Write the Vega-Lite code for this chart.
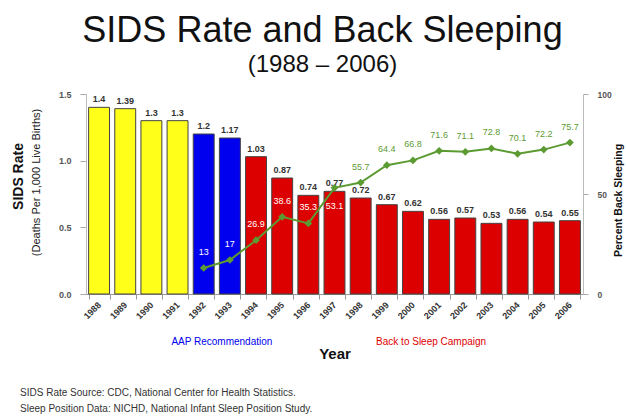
{
  "$schema": "https://vega.github.io/schema/vega-lite/v6.json",
  "width": 497,
  "height": 200,
  "autosize": {"type": "none"},
  "padding": {"left": 86, "top": 94, "right": 43, "bottom": 124},
  "background": "white",
  "title": {
    "text": "SIDS Rate and Back Sleeping",
    "subtitle": "(1988 – 2006)",
    "font": "Liberation Sans",
    "fontSize": 36,
    "fontWeight": "normal",
    "color": "#111111",
    "subtitleFont": "Liberation Sans",
    "subtitleFontSize": 24,
    "subtitleColor": "#111111",
    "subtitlePadding": 3,
    "anchor": "middle",
    "dx": -12,
    "offset": 12
  },
  "config": {
    "view": {"stroke": null},
    "axis": {"grid": false, "labelFont": "Liberation Sans", "titleFont": "Liberation Sans"},
    "text": {"font": "Liberation Sans"}
  },
  "data": {
    "values": [
      {"year": "1988", "rate": 1.4, "back": null, "period": "pre"},
      {"year": "1989", "rate": 1.39, "back": null, "period": "pre"},
      {"year": "1990", "rate": 1.3, "back": null, "period": "pre"},
      {"year": "1991", "rate": 1.3, "back": null, "period": "pre"},
      {"year": "1992", "rate": 1.2, "back": 13, "period": "AAP"},
      {"year": "1993", "rate": 1.17, "back": 17, "period": "AAP"},
      {"year": "1994", "rate": 1.03, "back": 26.9, "period": "BTS"},
      {"year": "1995", "rate": 0.87, "back": 38.6, "period": "BTS"},
      {"year": "1996", "rate": 0.74, "back": 35.3, "period": "BTS"},
      {"year": "1997", "rate": 0.77, "back": 53.1, "period": "BTS"},
      {"year": "1998", "rate": 0.72, "back": 55.7, "period": "BTS"},
      {"year": "1999", "rate": 0.67, "back": 64.4, "period": "BTS"},
      {"year": "2000", "rate": 0.62, "back": 66.8, "period": "BTS"},
      {"year": "2001", "rate": 0.56, "back": 71.6, "period": "BTS"},
      {"year": "2002", "rate": 0.57, "back": 71.1, "period": "BTS"},
      {"year": "2003", "rate": 0.53, "back": 72.8, "period": "BTS"},
      {"year": "2004", "rate": 0.56, "back": 70.1, "period": "BTS"},
      {"year": "2005", "rate": 0.54, "back": 72.2, "period": "BTS"},
      {"year": "2006", "rate": 0.55, "back": 75.7, "period": "BTS"}
    ]
  },
  "encoding": {
    "x": {
      "field": "year",
      "type": "ordinal",
      "scale": {"paddingInner": 0.2, "paddingOuter": 0.1},
      "axis": {
        "title": "Year",
        "labelAngle": -45,
        "labelAlign": "right",
        "labelBaseline": "middle",
        "labelFontSize": 9,
        "labelFontWeight": "bold",
        "labelColor": "#333333",
        "labelPadding": 4,
        "tickBand": "extent",
        "tickSize": 5,
        "tickColor": "#999999",
        "domainColor": "#999999",
        "titleFontSize": 15,
        "titleFontWeight": "bold",
        "titleColor": "#111111",
        "titlePadding": 26
      }
    }
  },
  "layer": [
    {
      "layer": [
        {
          "mark": {"type": "bar", "stroke": "#444444", "strokeWidth": 1},
          "encoding": {
            "y": {
              "field": "rate",
              "type": "quantitative",
              "scale": {"domain": [0, 1.5], "nice": false},
              "axis": {
                "orient": "left",
                "values": [0, 0.5, 1, 1.5],
                "format": ".1f",
                "labelFontSize": 9,
                "labelFontWeight": "bold",
                "labelColor": "#555555",
                "labelPadding": 9,
                "tickSize": 6,
                "tickColor": "#aaaaaa",
                "domainColor": "#bbbbbb",
                "title": "(Deaths Per 1,000 Live Births)",
                "titleFontSize": 11,
                "titleFontWeight": "normal",
                "titleColor": "#222222",
                "titlePadding": 17,
                "titleY": 88
              }
            },
            "color": {
              "field": "period",
              "type": "nominal",
              "scale": {"domain": ["pre", "AAP", "BTS"], "range": ["#ffff1a", "#0000ee", "#dd0000"]},
              "legend": null
            }
          }
        },
        {
          "mark": {"type": "text", "baseline": "bottom", "dy": -3, "fontSize": 9, "fontWeight": "bold", "color": "#333333"},
          "encoding": {
            "y": {"field": "rate", "type": "quantitative"},
            "text": {"field": "rate", "type": "quantitative", "format": "~g"}
          }
        },
        {
          "data": {"values": [
            {"year": "1993", "note": "AAP Recommendation", "group": "AAP"},
            {"year": "2001", "note": "Back to Sleep Campaign", "group": "BTS"}
          ]},
          "mark": {"type": "text", "baseline": "middle", "align": "center", "dy": 48, "dx": -8, "fontSize": 10},
          "encoding": {
            "y": {"datum": 0},
            "text": {"field": "note"},
            "color": {
              "field": "group",
              "type": "nominal",
              "scale": {"domain": ["pre", "AAP", "BTS"], "range": ["#ffff1a", "#3333ff", "#e02020"]},
              "legend": null
            }
          }
        },
        {
          "data": {"values": [
            {"note": "SIDS Rate Source:  CDC, National Center for Health Statistics.\nSleep Position Data:  NICHD, National Infant Sleep Position Study."}
          ]},
          "mark": {"type": "text", "baseline": "top", "align": "left", "dx": -79, "dy": 94, "fontSize": 10, "lineBreak": "\n", "lineHeight": 16, "color": "#333333"},
          "encoding": {
            "x": {"datum": "1988"},
            "y": {"datum": 0},
            "text": {"field": "note"}
          }
        }
      ]
    },
    {
      "mark": {"type": "point", "opacity": 0},
      "encoding": {
        "y": {
          "field": "rate",
          "type": "quantitative",
          "scale": {"domain": [0, 1.5], "nice": false},
          "axis": {
            "orient": "left",
            "labels": false,
            "ticks": false,
            "domain": false,
            "title": "SIDS Rate",
            "titleFontSize": 14,
            "titleFontWeight": "bold",
            "titleColor": "#111111",
            "titlePadding": 61,
            "titleY": 82
          }
        }
      }
    },
    {
      "transform": [{"filter": "isValid(datum.back)"}],
      "layer": [
        {
          "mark": {"type": "line", "color": "#5b9b32", "strokeWidth": 2},
          "encoding": {
            "y": {
              "field": "back",
              "type": "quantitative",
              "scale": {"domain": [0, 100], "nice": false},
              "axis": {
                "orient": "right",
                "values": [0, 50, 100],
                "labelFontSize": 8.5,
                "labelFontWeight": "bold",
                "labelColor": "#555555",
                "labelPadding": 9,
                "tickSize": 5,
                "tickColor": "#aaaaaa",
                "domainColor": "#bbbbbb",
                "title": "Percent Back Sleeping",
                "titleFontSize": 10.5,
                "titleFontWeight": "bold",
                "titleColor": "#111111",
                "titleAngle": 270,
                "titleBaseline": "top",
                "titlePadding": 2,
                "titleY": 106
              }
            }
          }
        },
        {
          "mark": {"type": "point", "shape": "diamond", "filled": true, "size": 60, "color": "#5b9b32", "opacity": 1},
          "encoding": {"y": {"field": "back", "type": "quantitative"}}
        },
        {
          "transform": [{"filter": "datum.year != '1997'"}],
          "mark": {"type": "text", "baseline": "middle", "dy": -16, "fontSize": 9},
          "encoding": {
            "y": {"field": "back", "type": "quantitative"},
            "text": {"field": "back", "type": "quantitative", "format": "~g"},
            "color": {"condition": {"test": "toNumber(datum.year) <= 1997", "value": "#ffffff"}, "value": "#5b9b32"}
          }
        },
        {
          "transform": [{"filter": "datum.year == '1997'"}],
          "mark": {"type": "text", "baseline": "middle", "dy": 18, "fontSize": 9, "color": "#ffffff"},
          "encoding": {
            "y": {"field": "back", "type": "quantitative"},
            "text": {"field": "back", "type": "quantitative", "format": "~g"}
          }
        }
      ]
    }
  ],
  "resolve": {"scale": {"y": "independent"}}
}
